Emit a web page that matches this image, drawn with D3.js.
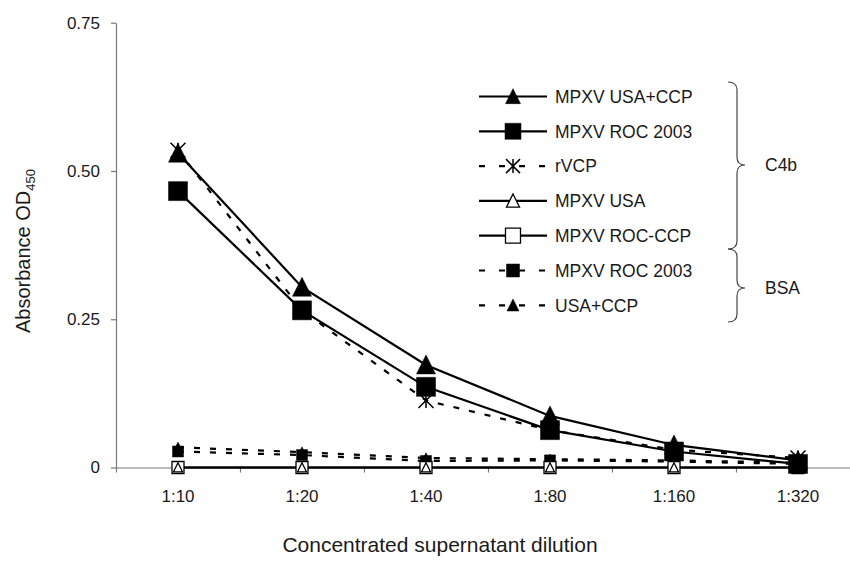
<!DOCTYPE html>
<html><head><meta charset="utf-8">
<script src="https://cdn.jsdelivr.net/npm/d3@7"></script>
<style>
body{margin:0;background:#fff}
svg text{font-family:"Liberation Sans",Arial,sans-serif;fill:#1a1a1a}
</style>
</head><body><svg id="c" width="850" height="562"></svg>
<script>
// ---- data ----
const categories = ["1:10","1:20","1:40","1:80","1:160","1:320"];
const c4bUsaCcp  = [0.530, 0.304, 0.173, 0.087, 0.038, 0.012];
const c4bRoc2003 = [0.466, 0.265, 0.136, 0.063, 0.027, 0.006];
const c4bRvcp    = [0.535, 0.265, 0.113, 0.063, 0.030, 0.016];
const c4bUsa     = [0.000, 0.000, 0.000, 0.000, 0.000, 0.000];
const c4bRocCcp  = [0.000, 0.000, 0.000, 0.000, 0.000, 0.000];
const bsaRoc2003 = [0.027, 0.021, 0.011, 0.012, 0.010, 0.006];
const bsaUsaCcp  = [0.034, 0.026, 0.016, 0.014, 0.012, 0.008];
const yTicks = [0, 0.25, 0.5, 0.75];
const yTickLabels = ["0", "0.25", "0.50", "0.75"];
const legendNames = ["MPXV USA+CCP","MPXV ROC 2003","rVCP","MPXV USA","MPXV ROC-CCP","MPXV ROC 2003","USA+CCP"];
const groupLabels = ["C4b","BSA"];

// series table (draw order back -> front)
const series = [
  {name:legendNames[5], values:bsaRoc2003, marker:"square",   fill:true,  dash:true,  size:11, leg:5},
  {name:legendNames[6], values:bsaUsaCcp,  marker:"triangle", fill:true,  dash:true,  size:10, leg:6},
  {name:legendNames[4], values:c4bRocCcp,  marker:"square",   fill:false, dash:false, size:12, leg:4},
  {name:legendNames[3], values:c4bUsa,     marker:"triangle", fill:false, dash:false, size:9,  leg:3},
  {name:legendNames[2], values:c4bRvcp,    marker:"asterisk", fill:false, dash:true,  size:15, leg:2},
  {name:legendNames[1], values:c4bRoc2003, marker:"square",   fill:true,  dash:false, size:19, leg:1},
  {name:legendNames[0], values:c4bUsaCcp,  marker:"triangle", fill:true,  dash:false, size:19, leg:0}
];
const legendSizes = {0:15,1:16,2:14,3:13,4:15,5:13,6:12};

const svg = d3.select("#c");
const axisColor = "#7a7a7a";
const x = d3.scaleBand().domain(categories).range([116, 860]).padding(0);
const xb = d3.scaleLinear().domain([0, categories.length]).range([116, 860]);
const y = d3.scaleLinear().domain([0, 0.75]).range([467.5, 22.7]);
const cx = c => x(c) + x.bandwidth() / 2;

// ---- axes ----
const gy = svg.append("g").attr("transform","translate(116,0)")
  .call(d3.axisLeft(y).tickValues(yTicks).tickSize(5).tickSizeOuter(0).tickPadding(11)
        .tickFormat((d,i) => yTickLabels[i]));
const gx = svg.append("g").attr("transform","translate(0," + y(0) + ")")
  .call(d3.axisBottom(xb).tickValues(d3.range(0, categories.length + 1)).tickSize(5).tickSizeOuter(0).tickFormat(""));
const gxl = svg.append("g").attr("transform","translate(0," + y(0) + ")")
  .call(d3.axisBottom(x).tickSize(0).tickPadding(22));
gxl.select(".domain").remove();
[gy, gx].forEach(g => { g.selectAll("path,line").attr("stroke", axisColor).attr("stroke-width", 1.2); });
svg.selectAll(".tick text").attr("font-size", 17).attr("font-family","Liberation Sans, Arial, sans-serif").attr("fill","#1a1a1a");

// titles
svg.append("text").attr("x", 440).attr("y", 552).attr("text-anchor","middle").attr("font-size", 21)
  .text("Concentrated supernatant dilution");
const yt = svg.append("text").attr("transform","translate(30,251) rotate(-90)").attr("text-anchor","middle").attr("font-size", 20);
yt.append("tspan").text("Absorbance OD");
yt.append("tspan").attr("font-size", 13).attr("dy", 5).text("450");

// ---- marker paths ----
function markerPath(type, s) {
  const h = s / 2;
  if (type === "square") return `M${-h},${-h}H${h}V${h}H${-h}Z`;
  if (type === "triangle") return `M0,${-h*1.05}L${h},${h*0.95}L${-h},${h*0.95}Z`;
  return `M${-h},${-h}L${h},${h}M${-h},${h}L${h},${-h}M0,${-h}V${h}`;
}
function drawMarker(g, m, s, fill, px, py) {
  const p = g.append("path").attr("d", markerPath(m, s)).attr("transform", `translate(${px},${py})`);
  if (m === "asterisk") p.attr("fill","none").attr("stroke","#000").attr("stroke-width",1.5);
  else if (fill) p.attr("fill","#000").attr("stroke","#000").attr("stroke-width",0.5);
  else p.attr("fill","#fff").attr("stroke","#000").attr("stroke-width",1.3);
}

// ---- series ----
const line = d3.line().x(d => cx(d.c)).y(d => y(d.v));
const plot = svg.append("g");
series.forEach(s => {
  const pts = categories.map((c, i) => ({c, v: s.values[i]}));
  plot.append("path").datum(pts).attr("d", line).attr("fill","none").attr("stroke","#000")
    .attr("stroke-width", 2.2).attr("stroke-dasharray", s.dash ? "6,10" : null);
});
series.forEach(s => {
  categories.forEach((c, i) => drawMarker(plot, s.marker, s.size, s.fill, cx(c), y(s.values[i])));
});

// ---- legend ----
const leg = svg.append("g");
const legY0 = 96.5, legDy = 34.8;
series.slice().sort((a,b) => a.leg - b.leg).forEach(s => {
  const yy = legY0 + s.leg * legDy;
  leg.append("line").attr("x1",479).attr("x2",547).attr("y1",yy).attr("y2",yy)
    .attr("stroke","#000").attr("stroke-width",2.2).attr("stroke-dasharray", s.dash ? "6,14" : null);
  drawMarker(leg, s.marker, legendSizes[s.leg], s.fill, 513, yy);
  leg.append("text").attr("x",555).attr("y",yy).attr("dy","0.36em").attr("font-size",17.5).text(s.name);
});

// braces
function brace(top, bottom, tipY) {
  const xl = 728, xm = 737, xt = 745, r = 8;
  return `M${xl},${top} Q${xm},${top} ${xm},${top+r} V${tipY-r} Q${xm},${tipY} ${xt},${tipY} Q${xm},${tipY} ${xm},${tipY+r} V${bottom-r} Q${xm},${bottom} ${xl},${bottom}`;
}
const braces = [{top:82, bottom:249, tip:165}, {top:249, bottom:322, tip:288}];
braces.forEach((b, i) => {
  leg.append("path").attr("d", brace(b.top, b.bottom, b.tip)).attr("fill","none").attr("stroke","#444").attr("stroke-width",1.2);
  leg.append("text").attr("x",765).attr("y",b.tip).attr("dy","0.36em").attr("font-size",17.5).text(groupLabels[i]);
});
</script>
</body></html>
